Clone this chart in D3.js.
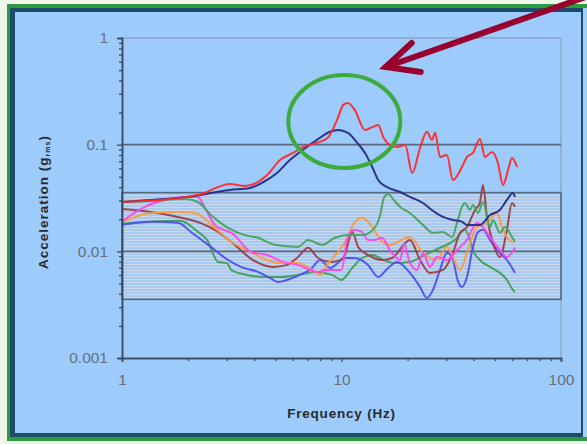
<!DOCTYPE html>
<html><head><meta charset="utf-8">
<script src="https://cdn.jsdelivr.net/npm/d3@7"></script>
<style>html,body{margin:0;padding:0;background:#f2f8ee;}svg{display:block;}</style>
</head><body>
<svg id="c" width="587" height="444"></svg>
<script>
// ---- data (frequency in Hz, acceleration in g rms) ----
const xTicks = [1, 10, 100];
const yTicks = [0.001, 0.01, 0.1, 1];
const yTickLabels = ["0.001", "0.01", "0.1", "1"];
const bandRange = [0.00355, 0.0355];

const redFreq = [1.0,1.49,1.98,2.39,2.74,3.10,3.63,4.17,4.58,5.25,6.01,6.68,7.73,8.67,9.54,10.2,10.7,11.5,12.8,13.9,14.7,15.5,16.6,17.9,19.5,21.0,22.8,24.5,25.8,26.7,28.1,30.2,32.2,35.4,37.3,39.7,42.7,45.1,48.5,51.6,54.4,57.4,59.8,63.1];
const redAcc  = [0.0290,0.0303,0.0324,0.0353,0.0401,0.0428,0.0410,0.0447,0.0520,0.0719,0.0836,0.0951,0.104,0.116,0.170,0.236,0.246,0.211,0.137,0.147,0.153,0.118,0.0993,0.0951,0.0993,0.0543,0.0931,0.132,0.111,0.129,0.0767,0.0800,0.0467,0.0618,0.0767,0.0836,0.113,0.0767,0.0855,0.0674,0.0419,0.0579,0.0750,0.0618];

const navyFreq = [1.0,1.34,1.98,3.10,3.83,4.58,5.08,5.82,6.47,7.73,8.87,9.64,10.7,11.8,12.8,13.8,14.7,16.1,18.5,20.5,23.5,25.8,29.0,32.2,35.4,37.3,42.7,47.5,52.7,56.7,60.4,61.7];
const navyAcc  = [0.0290,0.0303,0.0324,0.0376,0.0393,0.0467,0.0543,0.0719,0.0855,0.111,0.132,0.137,0.129,0.104,0.0836,0.0618,0.0467,0.0401,0.0360,0.0324,0.0284,0.0244,0.0210,0.0197,0.0189,0.0177,0.0177,0.0219,0.0244,0.0303,0.0353,0.0324];

const greenAFreq = [1.0,1.34,1.94,2.22,2.54,3.04,3.63,4.17,4.98,6.34,7.04,8.15,9.34,10.7,12.4,13.9,15.0,15.6,16.3,17.3,18.5,20.5,23.5,26.1,29.0,31.9,33.6,35.4,36.5,38.5,39.7,41.9,44.1,47.5,49.0,52.7,55.6,59.8,61.7];
const greenAAcc  = [0.0290,0.0297,0.0310,0.0290,0.0219,0.0166,0.0142,0.0134,0.0115,0.0110,0.0128,0.0115,0.0134,0.0142,0.0142,0.0159,0.0219,0.0317,0.0345,0.0303,0.0261,0.0229,0.0177,0.0149,0.0152,0.0136,0.0185,0.0261,0.0284,0.0244,0.0272,0.0229,0.0290,0.0169,0.0197,0.0149,0.0169,0.0136,0.0123];

const greenBFreq = [1.0,1.34,1.84,2.22,2.44,2.74,3.01,3.14,3.71,4.48,5.25,6.34,7.57,9.05,10.0,11.2,12.4,13.9,15.5,17.5,20.5,24.0,28.1,32.9,36.5,38.5,39.7,42.7,47.5,52.7,56.7,60.4,61.7];
const greenBAcc  = [0.0181,0.0189,0.0193,0.0152,0.0128,0.00796,0.00778,0.00670,0.00601,0.00575,0.00575,0.00601,0.00641,0.00601,0.00540,0.00699,0.00866,0.00925,0.00829,0.00778,0.00796,0.00925,0.0108,0.0128,0.0159,0.0128,0.0103,0.00829,0.00714,0.00628,0.00540,0.00435,0.00416];

const blueFreq = [1.0,1.36,1.80,2.06,2.54,2.95,3.48,4.17,4.72,5.14,6.14,7.34,7.98,8.87,10.4,11.5,13.2,14.7,16.3,17.9,20.5,22.8,24.5,26.1,28.1,30.2,31.9,34.0,35.4,37.3,39.7,41.9,44.1,47.5,51.1,56.7,61.7];
const blueAcc  = [0.0177,0.0189,0.0185,0.0152,0.0110,0.00866,0.00714,0.00641,0.00563,0.00517,0.00575,0.00699,0.00829,0.00699,0.00866,0.00866,0.00746,0.00575,0.00699,0.00796,0.00628,0.00464,0.00366,0.00435,0.00670,0.00966,0.00885,0.00517,0.00464,0.00575,0.0110,0.0152,0.0159,0.0128,0.0103,0.00829,0.00628];

const orangeFreq = [1.0,1.36,1.80,2.15,2.65,3.14,3.87,4.25,5.41,6.34,7.34,7.98,8.59,9.64,10.4,11.5,12.4,13.8,15.3,16.6,20.5,23.5,27.2,30.2,34.7,37.3,41.4,46.0,51.1,54.4,56.7,60.4];
const orangeAcc  = [0.0189,0.0229,0.0234,0.0229,0.0166,0.0123,0.00987,0.00885,0.00778,0.00778,0.00670,0.00601,0.00746,0.00987,0.0123,0.0189,0.0206,0.0169,0.0123,0.0115,0.0136,0.00966,0.00829,0.0110,0.00670,0.00966,0.0169,0.0185,0.0229,0.0159,0.0136,0.0120];

const magentaFreq = [1.0,1.10,1.27,1.57,1.94,2.22,2.39,2.65,3.20,3.87,4.58,5.41,6.34,7.82,8.41,10.0,10.6,11.3,12.4,13.2,14.2,15.3,16.6,18.5,19.3,20.5,22.1,23.5,25.3,27.2,30.2,33.6,37.3,41.4,44.1,47.5,52.7,56.7,61.7];
const magentaAcc  = [0.0189,0.0219,0.0261,0.0303,0.0324,0.0324,0.0255,0.0177,0.0146,0.00987,0.00925,0.00796,0.00746,0.00641,0.00670,0.00670,0.0128,0.0159,0.0152,0.0128,0.0128,0.0134,0.0103,0.00829,0.0118,0.00778,0.00670,0.00966,0.00714,0.00885,0.00829,0.0103,0.0128,0.0185,0.0169,0.0136,0.0103,0.00885,0.0108];

const brownFreq = [1.0,1.36,1.80,2.27,2.65,3.14,3.95,4.87,5.65,6.34,7.04,7.82,9.05,10.2,11.2,11.9,13.2,15.3,17.0,20.5,22.8,25.3,29.0,32.2,34.7,37.3,40.6,42.7,44.1,46.0,49.0,52.7,56.7,59.8,61.7];
const brownAcc  = [0.0250,0.0234,0.0210,0.0185,0.0159,0.0123,0.00829,0.00714,0.00746,0.00885,0.0108,0.00866,0.00796,0.00866,0.0152,0.0110,0.00925,0.00829,0.00866,0.0128,0.00829,0.00628,0.00670,0.00966,0.0149,0.0169,0.0244,0.0284,0.0419,0.0210,0.0120,0.00885,0.0159,0.0284,0.0261];

const seriesList = [
  {name:"green-low", f:greenBFreq, a:greenBAcc, color:"#3f9f55"},
  {name:"blue", f:blueFreq, a:blueAcc, color:"#5050ee"},
  {name:"brown", f:brownFreq, a:brownAcc, color:"#9a4048"},
  {name:"orange", f:orangeFreq, a:orangeAcc, color:"#ff9a3c"},
  {name:"magenta", f:magentaFreq, a:magentaAcc, color:"#ff44ee"},
  {name:"green-high", f:greenAFreq, a:greenAAcc, color:"#44a45a"},
  {name:"navy", f:navyFreq, a:navyAcc, color:"#2a2a88"},
  {name:"red", f:redFreq, a:redAcc, color:"#ff2a2a"}
];

// annotation positions in data space
const ellipseCenter = {f:10.3, a:0.165};
const arrowTip = {f:15.9, a:0.535};

// ---- drawing ----
const svg = d3.select("#c");
const L=122, R=561, T=38, B=358;
const x = d3.scaleLog().domain([1,100]).range([L,R]);
const y = d3.scaleLog().domain([0.001,1]).range([B,T]);

// frame
svg.append("rect").attr("x",0).attr("y",0).attr("width",587).attr("height",444).attr("fill","#eef6ea");
svg.append("rect").attr("x",7).attr("y",4).attr("width",600).attr("height",437).attr("fill","#2f9a3f");
svg.append("rect").attr("x",10).attr("y",8).attr("width",573).attr("height",429).attr("fill","#1c4c6c");
svg.append("rect").attr("x",15).attr("y",12).attr("width",566).attr("height",421).attr("fill","#9dcbfb");
svg.append("rect").attr("x",583).attr("y",8).attr("width",4).attr("height",429).attr("fill","#a6d0f8");

// hatch pattern for band
const defs = svg.append("defs");
const pat = defs.append("pattern").attr("id","hatch").attr("patternUnits","userSpaceOnUse")
  .attr("width",8).attr("height",3);
pat.append("rect").attr("width",8).attr("height",3).attr("fill","#a9c9ef");
pat.append("rect").attr("y",0).attr("width",8).attr("height",1).attr("fill","#c9d8ea");

// plot frame lines (top & right)
svg.append("line").attr("x1",L).attr("x2",R).attr("y1",y(1)).attr("y2",y(1)).attr("stroke","#7f93ab").attr("stroke-width",1.2);
svg.append("line").attr("x1",R).attr("x2",R).attr("y1",T).attr("y2",B).attr("stroke","#8ea3bb").attr("stroke-width",1.2);

// band
svg.append("rect").attr("x",L).attr("width",R-L)
  .attr("y",y(bandRange[1])).attr("height",y(bandRange[0])-y(bandRange[1]))
  .attr("fill","url(#hatch)").attr("stroke","#55677c").attr("stroke-width",1.6);

// gridlines
[0.1,0.01].forEach(v=>{
  svg.append("line").attr("x1",L).attr("x2",R).attr("y1",y(v)).attr("y2",y(v))
    .attr("stroke","#58697f").attr("stroke-width",1.8);
});

// series
const line = d3.line().x(d=>x(d[0])).y(d=>y(d[1])).curve(d3.curveMonotoneX);
seriesList.forEach(s=>{
  const pts = s.f.map((f,i)=>[f,s.a[i]]);
  svg.append("path").datum(pts).attr("d",line).attr("fill","none")
    .attr("stroke",s.color).attr("stroke-width",2).attr("stroke-linejoin","round").attr("opacity",0.95);
});

// axes
const minorY = [];
[0.001,0.01,0.1].forEach(d=>{for(let k=2;k<=9;k++) minorY.push(d*k);});
const minorX = [];
[1,10].forEach(d=>{for(let k=2;k<=9;k++) minorX.push(d*k);});

const yAxis = svg.append("g").attr("transform",`translate(${L},0)`)
  .call(d3.axisLeft(y).tickValues(yTicks).tickFormat((d,i)=>yTickLabels[i]).tickSize(5).tickPadding(9));
const yMinor = svg.append("g").attr("transform",`translate(${L},0)`)
  .call(d3.axisLeft(y).tickValues(minorY).tickFormat("").tickSize(3));
const xAxis = svg.append("g").attr("transform",`translate(0,${B})`)
  .call(d3.axisBottom(x).tickValues(xTicks).tickFormat(d3.format("d")).tickSize(4).tickPadding(12));
const xMinor = svg.append("g").attr("transform",`translate(0,${B})`)
  .call(d3.axisBottom(x).tickValues(minorX).tickFormat("").tickSize(3));
[yAxis,yMinor,xAxis,xMinor].forEach(g=>{
  g.select(".domain").attr("stroke","#3d4a5e").attr("stroke-width",1.5);
  g.selectAll(".tick line").attr("stroke","#3d4a5e").attr("stroke-width",1.3);
  g.selectAll("text").attr("fill","#66707e").attr("font-family","Liberation Sans, Arial, sans-serif").attr("font-size",15.5);
});

// axis titles
svg.append("text").attr("x",(L+R)/2-0).attr("y",418).attr("text-anchor","middle")
  .attr("font-family","Liberation Sans, Arial, sans-serif").attr("font-weight","bold").attr("font-size",13.5)
  .attr("letter-spacing","0.8").attr("fill","#2a2a2a").text("Frequency (Hz)");
const yt = svg.append("text").attr("transform","translate(48,202) rotate(-90)").attr("text-anchor","middle")
  .attr("font-family","Liberation Sans, Arial, sans-serif").attr("font-weight","bold").attr("font-size",13.5)
  .attr("letter-spacing","1").attr("fill","#2a2a2a");
yt.append("tspan").text("Acceleration (g");
yt.append("tspan").attr("font-size",7).attr("dy",2).text("rms");
yt.append("tspan").attr("dy",-2).text(")");

// green ellipse annotation
svg.append("ellipse").attr("cx",x(ellipseCenter.f)).attr("cy",y(ellipseCenter.a))
  .attr("rx",56).attr("ry",46.5).attr("fill","none").attr("stroke","#3cab3c").attr("stroke-width",4);

// arrow annotation
const tx = x(arrowTip.f), ty = y(arrowTip.a);
svg.append("path").attr("d",`M${tx+240},${ty-84} L${tx},${ty}`)
  .attr("stroke","#98002e").attr("stroke-width",6).attr("fill","none").attr("stroke-linecap","round");
svg.append("path").attr("d",`M${tx+26},${ty-24} L${tx},${ty} L${tx+35},${ty+5}`)
  .attr("stroke","#98002e").attr("stroke-width",6).attr("fill","none").attr("stroke-linecap","round").attr("stroke-linejoin","miter");
</script>
</body></html>
